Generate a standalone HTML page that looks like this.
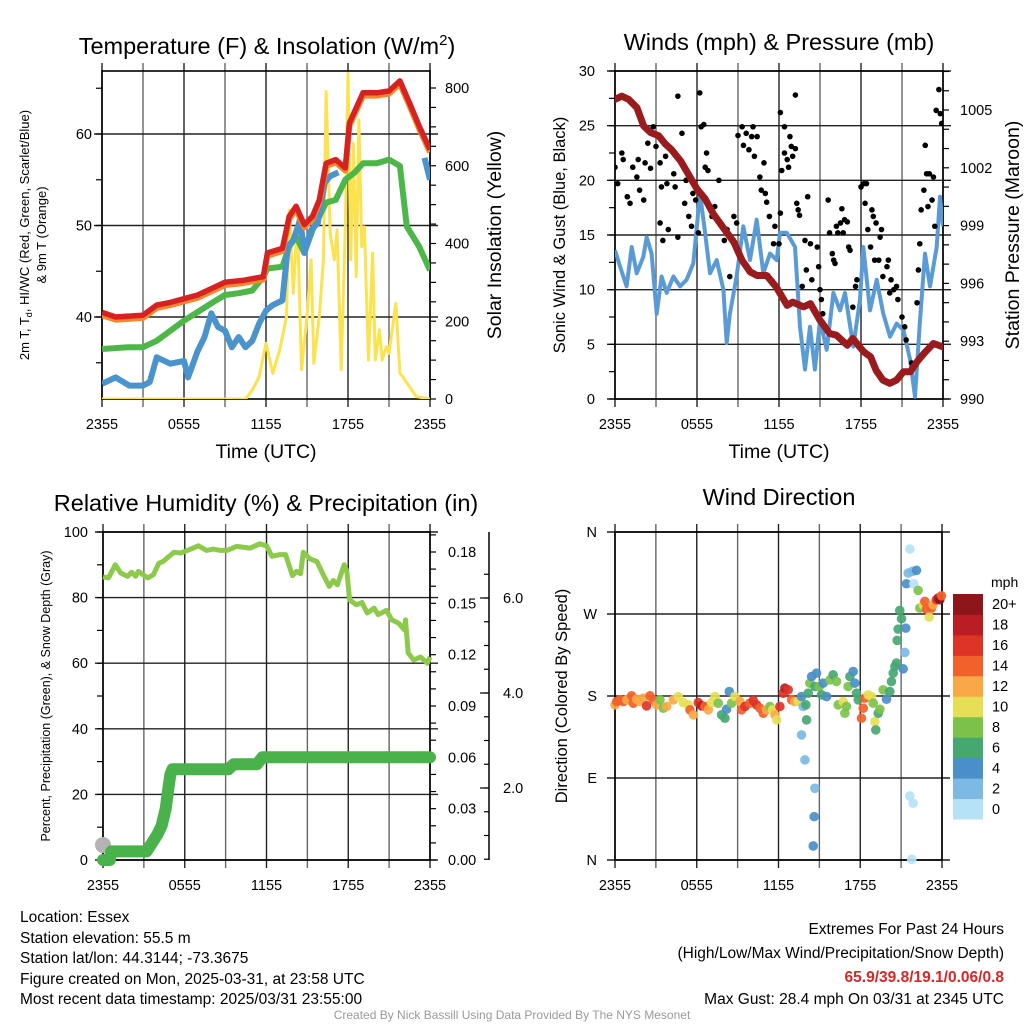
<!DOCTYPE html>
<html><head><meta charset="utf-8"><style>
html,body{margin:0;padding:0;background:#fff}
svg{display:block;font-family:"Liberation Sans",sans-serif}
</style></head><body>
<svg id="svg" xmlns="http://www.w3.org/2000/svg" width="1024" height="1024" viewBox="0 0 1024 1024">
<rect width="1024" height="1024" fill="#fff"/>
<g id="layer"></g>
<text x="267" y="54" font-size="23.5" text-anchor="middle">Temperature (F) &amp; Insolation (W/m<tspan font-size="15" dy="-9">2</tspan><tspan dy="9">)</tspan></text>
<text x="779" y="50" font-size="23.5" text-anchor="middle">Winds (mph) &amp; Pressure (mb)</text>
<text x="266" y="511" font-size="23.5" text-anchor="middle">Relative Humidity (%) &amp; Precipitation (in)</text>
<text x="779" y="505" font-size="23.5" text-anchor="middle">Wind Direction</text>
<text x="266" y="458" font-size="19.5" text-anchor="middle">Time (UTC)</text>
<text x="779" y="458" font-size="19.5" text-anchor="middle">Time (UTC)</text>
<text transform="translate(29,235) rotate(-90)" font-size="13" text-anchor="middle">2m T, T<tspan font-size="9" dy="3">d</tspan><tspan dy="-3">, HI/WC (Red, Green, Scarlet/Blue)</tspan></text>
<text transform="translate(46,235) rotate(-90)" font-size="13" text-anchor="middle">&amp; 9m T (Orange)</text>
<text transform="translate(501,235) rotate(-90)" font-size="19.5" text-anchor="middle">Solar Insolation (Yellow)</text>
<text transform="translate(565,235) rotate(-90)" font-size="16.5" text-anchor="middle">Sonic Wind &amp; Gust (Blue, Black)</text>
<text transform="translate(1019,235) rotate(-90)" font-size="19.5" text-anchor="middle">Station Pressure (Maroon)</text>
<text transform="translate(50,696) rotate(-90)" font-size="12.5" text-anchor="middle">Percent, Precipitation (Green), &amp; Snow Depth (Gray)</text>
<text transform="translate(567,696) rotate(-90)" font-size="16.5" text-anchor="middle">Direction (Colored By Speed)</text>
<text x="991" y="587" font-size="14">mph</text>
<g font-size="15.5">
<text x="20" y="922">Location: Essex</text>
<text x="20" y="943">Station elevation: 55.5 m</text>
<text x="20" y="963">Station lat/lon: 44.3144; -73.3675</text>
<text x="20" y="984">Figure created on Mon, 2025-03-31, at 23:58 UTC</text>
<text x="20" y="1004">Most recent data timestamp: 2025/03/31 23:55:00</text>
</g>
<g font-size="15.5" text-anchor="end">
<text x="1004" y="934">Extremes For Past 24 Hours</text>
<text x="1004" y="958">(High/Low/Max Wind/Precipitation/Snow Depth)</text>
<text x="1004" y="982" fill="#d62728" font-weight="bold">65.9/39.8/19.1/0.06/0.8</text>
<text x="1004" y="1004">Max Gust: 28.4 mph On 03/31 at 2345 UTC</text>
</g>
<text x="512" y="1019" font-size="12" fill="#999" text-anchor="middle">Created By Nick Bassill Using Data Provided By The NYS Mesonet</text>
</svg>
<script>
const redHours=[0,1,2,3,4,5,6,7,8,9,10.3,11.8,12.1,13.2,13.7,14.2,14.8,15.4,15.9,16.4,17.1,17.8,18.1,19.1,20.1,21,21.8,22.5,23.2,24];
const redTemp=[40.5,40.0,40.1,40.2,41.3,41.6,42.0,42.4,43.1,43.8,44.0,44.4,47.0,47.5,51.0,52.1,50.1,51.0,52.8,56.8,57.2,56.3,61.2,64.5,64.5,64.7,65.8,63.4,60.9,58.3];
const greenHours=[0,2,3,4,6,8,9,10,11,11.8,12.1,13.2,13.7,14.2,14.8,15.4,16.4,17.1,17.8,18.5,19.1,20.1,21,21.8,22.3,23.2,24];
const greenTemp=[36.5,36.7,36.7,37.4,39.6,41.5,42.4,42.6,42.9,44.4,45.3,45.5,47.7,48.8,47.0,49.5,52.5,52.8,55.0,55.8,56.8,56.8,57.2,56.5,49.9,47.7,45.1];
const blueHours=[0,1,2,3,3.5,4,5,6,6.3,7,7.5,8,8.5,9,9.5,10,10.5,11,11.5,12,12.5,13.2,13.6,14,14.5,14.8,15.3,15.8,16.3,16.7,17.3];
const blueTemp=[32.7,33.4,32.5,32.5,32.9,35.6,34.9,35.2,33.4,36.3,37.8,40.4,38.9,38.5,36.7,37.8,36.7,37.4,39.3,40.7,41.3,41.8,47.7,48.4,50.6,47.0,49.5,50.3,54.7,55.4,55.8];
const blueHours2=[23.6,24];
const blueTemp2=[57.4,55.0];
const solarHours=[0,10.5,11,11.5,12,12.5,13,13.5,13.7,14,14.3,14.6,15,15.3,15.5,15.9,16.2,16.4,16.7,17,17.2,17.5,17.8,18,18.2,18.4,18.6,18.8,19,19.2,19.5,19.8,20,20.3,20.5,20.8,21,21.5,21.8,22,22.5,23,24];
const solarWm2=[0,0,23,57,143,66,126,212,486,272,461,75,212,358,92,212,358,791,426,358,435,75,443,838,358,658,315,718,392,443,100,375,100,178,100,135,117,246,66,57,32,6,0];
const windHours=[0,0.37,0.85,1.22,1.59,2.07,2.32,2.68,3.05,3.41,3.78,4.27,4.76,5.24,5.73,6.22,6.59,6.95,7.44,7.93,8.17,8.41,8.9,9.39,9.88,10.37,10.85,11.34,11.83,12.07,12.56,13.17,13.54,13.9,14.27,14.63,15,15.49,15.98,16.46,16.83,17.44,17.93,18.17,18.66,19.15,19.63,20.12,20.61,21.1,21.59,21.95,22.32,22.68,23.05,23.54,23.78,24];
const windMph=[13.6,12.1,10.3,13.9,11.5,13,14.8,13.3,7.8,11.2,9.7,11.2,10.3,10.9,12.4,18.8,15.2,11.5,12.7,10,5.1,7.8,11.2,15.8,12.7,16.4,11.5,13.3,12.7,15.2,15.2,13.9,6.6,2.7,6.6,2.7,7.2,4.5,9.7,8.1,9.7,4.8,9.1,13.9,8.1,10.9,7.8,5.7,6.9,6.3,3.6,0.2,7.2,13.3,10.3,13.9,18.5,15.8];
const gustHours=[0,0.2,0.5,0.6,0.9,1.1,1.3,1.6,1.7,1.8,2.1,2.2,2.4,2.6,2.8,3,3.3,3.3,3.4,3.5,3.7,3.8,3.9,4.1,4.3,4.4,4.6,4.6,4.9,5.1,5.2,5.4,5.6,5.7,5.9,6.1,6.2,6.3,6.5,6.6,6.7,6.8,7.1,7.3,7.6,8.0,8.2,8.4,8.7,8.9,9.0,9.3,9.4,9.6,9.8,10.0,10.1,10.2,10.4,10.6,10.7,10.9,11.0,11.1,11.3,11.6,11.7,12.0,12.1,12.1,12.2,12.4,12.4,12.6,12.7,12.8,12.9,13.0,13.2,13.2,13.3,13.4,13.5,13.7,13.9,14.1,14.0,14.3,14.4,14.8,14.9,15.0,15.1,15.2,15.6,15.7,15.9,16.0,16.1,16.2,16.3,16.5,16.6,16.7,16.8,17.0,17.1,17.2,17.4,17.6,17.7,18.0,18.2,18.3,18.4,18.5,18.7,18.8,18.9,19.0,19.1,19.3,19.4,19.5,19.6,19.9,20.0,20.1,20.2,20.4,20.6,20.7,21.0,21.2,21.3,21.7,22.1,22.2,22.3,22.4,22.6,22.7,22.8,22.9,23.0,23.2,23.3,23.4,23.5,23.7,23.8,23.9];
const gustMph=[21.2,19.7,22.5,21.9,18.5,17.9,21.2,20.3,21.9,19.1,18.2,21.6,23.4,21.1,24.9,23.1,21.6,16.1,19.4,14.5,22.2,19.7,15.5,22.8,20.6,19.4,27.7,14.8,24.3,17.9,20,16.7,15.8,18.8,18.2,15.2,28.0,24.9,25.1,21.2,22.5,20.9,16.7,17.6,20.0,14.5,15.5,11.2,16.7,16.1,24.1,24.9,23.2,24.3,22.8,24.0,24.9,22.2,24.0,20.3,19.1,21.6,18.8,18.0,16.7,14.2,15.8,14.2,17.0,26.2,20.9,24.9,22.5,21.9,21.2,24.0,23.1,22.2,27.8,22.9,17.9,17.3,16.8,10.3,14.5,18.5,11.8,14.2,10.9,13.9,12.1,10.0,9.1,7.8,18.2,15.2,13.3,12.7,12.4,15.8,15.2,16.1,17.4,15.2,16.4,16.2,13.9,13.6,8.4,10.3,10.9,19.4,19.7,17.9,19.7,15.5,13.9,17.3,16.7,12.7,16.1,12.7,14.8,15.5,11.2,12.1,12.7,9.7,10.9,10.0,10.3,9.1,7.5,6.6,5.4,3.3,8.8,11.8,14.2,17.3,19.1,23.2,20.6,17.6,20.6,18.2,20.3,15.8,26.4,28.3,26.1,25.2];
const presHours=[0,0.5,1,1.6,2.1,2.6,3.2,3.7,4.1,4.8,5.5,6,6.6,7.2,7.9,8.7,9.3,9.9,10.4,11.1,11.8,12.6,13,13.8,14.3,15,15.7,16.2,17,17.4,18.2,18.7,19.1,19.6,20.1,20.6,21.1,21.6,22.1,22.6,23.3,24];
const presMb=[1005.55,1005.72,1005.55,1005.12,1004.17,1003.83,1003.66,1003.22,1002.97,1002.36,1001.5,1000.9,1000.38,999.6,998.91,998.14,997.19,996.59,996.41,996.41,995.81,994.86,995.03,994.78,994.95,994.09,993.4,993.31,992.79,993.14,992.45,992.19,991.5,990.98,990.81,990.98,991.41,991.41,991.93,992.36,992.88,992.71];
const rhHours=[0,0.4,0.9,1.3,1.8,2.1,2.4,2.6,3.1,3.3,3.7,4.1,4.4,5.2,5.7,6.2,7.0,7.6,8.1,8.6,9.1,9.8,10.8,11.5,12.0,12.4,13.0,13.4,13.9,14.2,14.5,14.7,15.2,15.7,16.1,16.6,16.9,17.2,17.7,17.9,18.1,18.6,19.0,19.4,19.9,20.2,20.8,21.2,21.7,22.1,22.2,22.4,22.8,23.3,23.8,24.0];
const rhPct=[86.3,86.0,90.0,87.5,86.5,87.7,86.5,88.0,86.5,86.0,87.0,90.5,91.0,93.8,93.6,94.4,95.8,94.4,94.8,94.4,94.4,95.6,95.1,96.4,95.8,92.6,93.1,93.1,86.7,88.0,87.3,93.8,91.8,91.0,87.5,83.4,85.2,83.9,90.0,88.0,79.3,77.8,78.5,75.3,76.8,74.8,76.1,73.2,72.2,70.2,73.2,63.1,61.0,61.9,60.0,61.9];
const precipHours=[0,0.5,0.6,3.2,3.6,4.0,4.3,4.6,4.8,4.95,5.1,9.2,9.6,11.3,11.7,24];
const precipIn=[0,0,0.005,0.005,0.01,0.015,0.02,0.03,0.042,0.05,0.053,0.053,0.056,0.056,0.06,0.06];
const snowHours=[0];
const snowDepth=[0.8];
const dirHours=[0,0.12,0.37,0.61,0.86,1.22,1.34,1.59,1.83,2.08,2.32,2.57,2.81,3.06,3.30,3.55,3.79,4.28,4.65,5.01,5.38,5.50,5.75,6.11,6.36,6.60,6.85,7.09,7.34,7.58,7.82,8.07,8.19,8.39,8.56,8.80,9.17,9.29,9.54,9.90,10.15,10.39,10.64,10.88,11.12,11.37,11.56,11.74,11.86,12.10,12.35,12.47,12.71,12.96,13.20,13.45,13.69,13.81,14.01,14.06,14.18,14.30,14.43,14.67,14.79,14.99,15.16,15.28,15.53,15.77,16.01,16.26,16.38,16.75,16.87,16.99,17.11,17.24,17.48,17.60,17.73,17.85,18.09,18.22,18.34,18.58,18.83,18.95,19.07,19.14,19.32,19.44,19.68,19.93,20.17,20.29,20.42,20.54,20.66,20.71,20.78,20.90,21.03,21.15,21.27,21.34,21.39,21.52,21.64,21.83,21.93,22.13,22.25,22.37,22.62,22.74,22.86,23.06,23.23,23.35,23.59,23.72,23.84,23.96,13.69,13.94,14.67,14.62,14.55,21.64,21.88,21.78];
const dirDeg=[170.3,173.9,175.8,173.9,175.8,180.2,172.1,176.5,173.9,177.6,169.2,180.2,175.8,170.3,175.8,166.6,168.5,175.8,179.4,172.8,170.3,164.8,159.3,172.8,169.2,168.5,164.8,172.8,179.4,172.1,159.3,155.6,165.5,184.9,172.1,179.4,173.9,164.8,168.5,172.1,175.0,170.3,166.6,161.1,164.8,168.5,164.8,159.3,153.8,168.5,183.1,188.6,186.8,175.8,173.9,173.9,179.4,168.5,170.3,153.8,183.1,194.1,201.4,190.4,205.1,190.4,181.3,194.1,179.4,197.7,203.2,195.9,170.3,173.9,161.1,168.5,190.4,201.4,206.9,194.1,183.1,175.8,155.6,166.6,177.6,181.3,179.4,172.1,152.0,142.8,161.1,165.5,186.8,176.5,184.9,195.9,205.1,212.4,216.1,241.0,253.4,273.9,264.8,209.8,227.8,254.5,303.2,314.9,341.3,316.8,303.2,317.9,295.9,276.5,280.1,283.8,275.4,266.6,276.5,280.1,285.6,287.5,285.6,290.0,137.3,109.9,78.7,47.6,15.4,70.3,62.3,0.7];
const dirSpeed=[12,14,14,14,12,15,14,12,12,12,17,15,14,12,8,8,12,12,10,10,10,14,12,16,18,14,12,10,10,8,7,6,4,4,8,10,12,14,16,14,16,16,14,14,12,8,10,12,10,16,16,18,16,14,12,10,4,2,6,6,6,8,4,7,4,8,6,4,4,8,7,8,8,10,8,8,8,6,4,4,6,6,14,14,14,10,10,8,10,7,6,8,8,4,6,6,6,6,6,6,6,6,6,4,3,4,4,3,1,3,1,4,8,8,10,14,14,10,14,12,16,18,20,14,2,2,2,4,4,0,1,1];
const speedBins=["0","2","4","6","8","10","12","14","16","18","20+"];
const dirLabels=["N","E","S","W","N"];
const binColors=["#b5e2f6","#7cb9e3","#4a8fc7","#47a771","#7cc24a","#e6df55","#f8a847","#f1612a","#de3327","#bb1d25","#8e161b"];

const NS="http://www.w3.org/2000/svg";
const layer=document.getElementById('layer');
function el(tag,attrs,parent){const e=document.createElementNS(NS,tag);for(const k in attrs)e.setAttribute(k,attrs[k]);(parent||layer).appendChild(e);return e;}
function lin(d0,d1,r0,r1){return v=>r0+(v-d0)*(r1-r0)/(d1-d0);}
function path(xs,ys,fx,fy){return xs.map((x,i)=>(i?'L':'M')+fx(x).toFixed(1)+','+fy(ys[i]).toFixed(1)).join('');}

function frame(x0,x1,y0,y1,name,hLines){
  const g=el('g',{});
  
  
  for(let h=0;h<=24;h+=3){const x=lin(0,24,x0,x1)(h);
    el('line',{x1:x,x2:x,y1:y0-8,y2:y1+8,stroke:(h%6===0)?'#222':'#666','stroke-width':1.4},g);}
  hLines.forEach(y=>el('line',{x1:x0-8,x2:x1+8,y1:y,y2:y,stroke:'#222','stroke-width':1.4},g));
  el('rect',{x:x0,y:y0,width:x1-x0,height:y1-y0,fill:'none',stroke:'#000','stroke-width':1.6},g);
  const lab=['2355','0555','1155','1755','2355'];
  lab.forEach((t,i)=>{const tx=el('text',{x:lin(0,24,x0,x1)(i*6),y:y1+30,'font-size':14.5,'text-anchor':'middle'},g);tx.textContent=t;
    
    });
}
function yTicks(x,vals,fy,dir,len,labels,anchorX,anchor,name){
  const g=el('g',{});
  
  
  vals.forEach(v=>el('line',{x1:x,x2:x+dir*len,y1:fy(v),y2:fy(v),stroke:'#000','stroke-width':1.2},g));
  (labels||[]).forEach(([v,t])=>{const tx=el('text',{x:anchorX,y:fy(v)+5,'font-size':14.5,'text-anchor':anchor},g);tx.textContent=t;});
}
function range(a,b,s){const r=[];for(let v=a;v<=b+1e-9;v+=s)r.push(+v.toFixed(4));return r;}

{const x0=102,x1=430,y0=71,y1=399;
 const fx=lin(0,24,x0,x1), fT=lin(40,60,317,134), fS=lin(0,800,399,88);
 frame(x0,x1,y0,y1,'temperature',[fT(40),fT(50),fT(60)]);
 yTicks(x0,range(35,65,5),fT,-1,6,[[40,'40'],[50,'50'],[60,'60']],x0-10,'end','temperature-y-axis');
 yTicks(x1,range(0,800,50),fS,1,6,[[0,'0'],[200,'200'],[400,'400'],[600,'600'],[800,'800']],x1+15,'start','solar-y-axis');
 const clip=el('clipPath',{id:'c1'});el('rect',{x:x0,y:y0,width:x1-x0,height:y1-y0},clip);
 const g=el('g',{'clip-path':'url(#c1)'});
 let p;
 p=el('path',{d:path(solarHours,solarWm2,fx,fS),fill:'none',stroke:'#fde24f','stroke-width':3,'stroke-linejoin':'round'},g);
 
 
 p=el('path',{d:path(greenHours,greenTemp,fx,fT),fill:'none',stroke:'#4cb748','stroke-width':6,'stroke-linejoin':'round'},g);
 
 
 p=el('path',{d:path(blueHours,blueTemp,fx,fT)+path(blueHours2,blueTemp2,fx,fT),fill:'none',stroke:'#4b93cc','stroke-width':6,'stroke-linejoin':'round'},g);
 
 
 p=el('path',{d:path(redHours,redTemp.map(v=>v-0.3),fx,fT),fill:'none',stroke:'#f5882a','stroke-width':6,'stroke-linejoin':'round'},g);
 
 
 p=el('path',{d:path(redHours,redTemp,fx,fT),fill:'none',stroke:'#d62223','stroke-width':5.5,'stroke-linejoin':'round'},g);
 
 
}
{const x0=615,x1=943,y0=71,y1=399;
 const fx=lin(0,24,x0,x1), fW=lin(0,30,399,71), fP=lin(990,1005,399,110);
 frame(x0,x1,y0,y1,'winds',range(0,30,5).map(fW));
 yTicks(x0,range(0,30,2.5),fW,-1,6,range(0,30,5).map(v=>[v,String(v)]),x0-20,'end','wind-y-axis');
 yTicks(x1,range(990,1007,1),fP,1,6,range(990,1005,3).map(v=>[v,String(v)]),x1+17,'start','pressure-y-axis');
 const clip=el('clipPath',{id:'c2'});el('rect',{x:x0,y:y0-4,width:x1-x0,height:y1-y0+8},clip);
 const g=el('g',{'clip-path':'url(#c2)'});
 let p=el('path',{d:path(windHours,windMph,fx,fW),fill:'none',stroke:'#5a9bd5','stroke-width':4,'stroke-linejoin':'round'},g);
 
 
 gustHours.forEach((h,i)=>{const c=el('circle',{cx:fx(h),cy:fW(gustMph[i]),r:2.8,fill:'#000'},g);
   
   });
 p=el('path',{d:path(presHours,presMb,fx,fP),fill:'none',stroke:'#9a1b1e','stroke-width':7,'stroke-linejoin':'round','stroke-linecap':'round'},g);
 
 
}
{const x0=103,x1=430,y0=532,y1=860;
 const fx=lin(0,24,x0,x1), fR=lin(0,100,860,532), fPr=lin(0,0.18,860,552), fSn=lin(0,2,883,788);
 frame(x0,x1,y0,y1,'humidity',range(0,100,20).map(fR));
 yTicks(x0,range(0,100,10),fR,-1,6,range(0,100,20).map(v=>[v,String(v)]),x0-15,'end','humidity-y-axis');
 yTicks(x1,range(0,0.19,0.01),fPr,1,6,range(0,0.18,0.03).map(v=>[v,v.toFixed(2)]),x1+18,'start','precipitation-y-axis');
 const sa=el('line',{x1:489,x2:489,y1:532,y2:860,stroke:'#000','stroke-width':1.5});
 
 
 yTicks(489,range(0.5,6.5,0.5),fSn,-1,5,[],0,'start','snow-depth-minor-ticks');
 yTicks(489,[2,4,6],fSn,-1,9,[[2,'2.0'],[4,'4.0'],[6,'6.0']],503,'start','snow-depth-y-axis');
 let p=el('path',{d:path(rhHours,rhPct,fx,fR),fill:'none',stroke:'#8dc94a','stroke-width':5,'stroke-linejoin':'round'});
 
 
 snowHours.forEach((h,i)=>{const c=el('circle',{cx:fx(h),cy:fSn(snowDepth[i]),r:8,fill:'#b3b3b3'});
   
   });
 p=el('path',{d:path(precipHours,precipIn,fx,fPr),fill:'none',stroke:'#49b24a','stroke-width':12,'stroke-linejoin':'round','stroke-linecap':'round'});
 
 
}
{const x0=615,x1=942,y0=532,y1=860;
 const fx=lin(0,24,x0,x1), fD=lin(0,360,860,532);
 frame(x0,x1,y0,y1,'wind-direction',[0,90,180,270,360].map(fD));
 yTicks(x0,[0,90,180,270,360],fD,-1,0,dirLabels.map((t,i)=>[i*90,t]),x0-18,'end','direction-y-axis');
 dirHours.forEach((h,i)=>{const b=Math.min(10,Math.floor(dirSpeed[i]/2));
   const c=el('circle',{cx:fx(h),cy:fD(dirDeg[i]),r:4.8,fill:binColors[b],'fill-opacity':0.92});
   
   });
 const cb=el('g',{});
 
 
 const fB=lin(0,11,819,594);
 speedBins.forEach((t,i)=>{el('rect',{x:953,y:fB(i+1),width:30,height:fB(i)-fB(i+1)+0.5,fill:binColors[i]},cb);
   const tx=el('text',{x:992,y:(fB(i)+fB(i+1))/2+5,'font-size':14.5},cb);tx.textContent=t;});
}
</script>
</body></html>
